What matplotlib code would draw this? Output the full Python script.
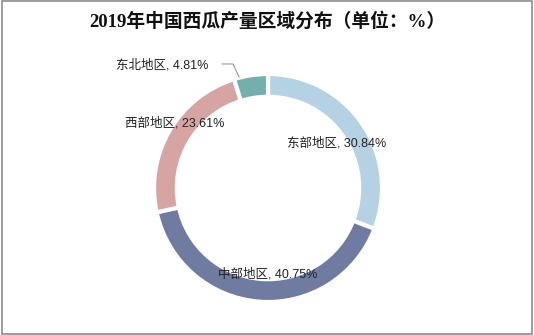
import matplotlib.pyplot as plt
from matplotlib.patches import Rectangle

plt.rcParams['font.family'] = ['Liberation Sans', 'Noto Sans CJK SC']

# data
regions = ["东部地区", "中部地区", "西部地区", "东北地区"]
shares = [30.84, 40.75, 23.61, 4.81]
colors = ["#b5d2e5", "#6f7ba0", "#d6a4a3", "#74afae"]

fig = plt.figure(figsize=(5.34, 3.35), dpi=100)
fig.patch.set_facecolor("white")

# donut centred at about (268, 188) px, outer radius about 114 px
ax = fig.add_axes([0.2884, 0.0985, 0.427, 0.6806])
ax.pie(shares, colors=colors, startangle=90, counterclock=False, radius=1,
       wedgeprops=dict(width=0.2, edgecolor="white", linewidth=3))
ax.set_xlim(-1, 1)
ax.set_ylim(-1, 1)
ax.set_aspect("equal")
ax.axis("off")

labels = [f"{r}, {s:.2f}%" for r, s in zip(regions, shares)]
label_pos = [(0.605, 0.395), (0.0, -0.754), (-0.816, 0.570), (-0.93, 1.079)]
for text, (x, y) in zip(labels, label_pos):
    ax.text(x, y, text, ha="center", va="center", fontsize=9,
            color="#222222", clip_on=False)

# leader line for the small slice
ax.plot([-0.404, -0.307, -0.254], [1.088, 1.088, 0.974], color="#999999",
        linewidth=0.8, clip_on=False)

fig.text(0.5, 0.935, "2019年中国西瓜产量区域分布（单位：%）", ha="center",
         va="center", fontsize=13.5, fontweight="bold",
         family=["Liberation Serif", "Noto Sans CJK SC"], color="#111111")

# grey frame around the figure
fig.patches.append(Rectangle((0.004, 0.004), 0.992, 0.992, transform=fig.transFigure,
                             fill=False, edgecolor="#8c8c8c", linewidth=1.2))

fig.savefig("out.png", dpi=100)
